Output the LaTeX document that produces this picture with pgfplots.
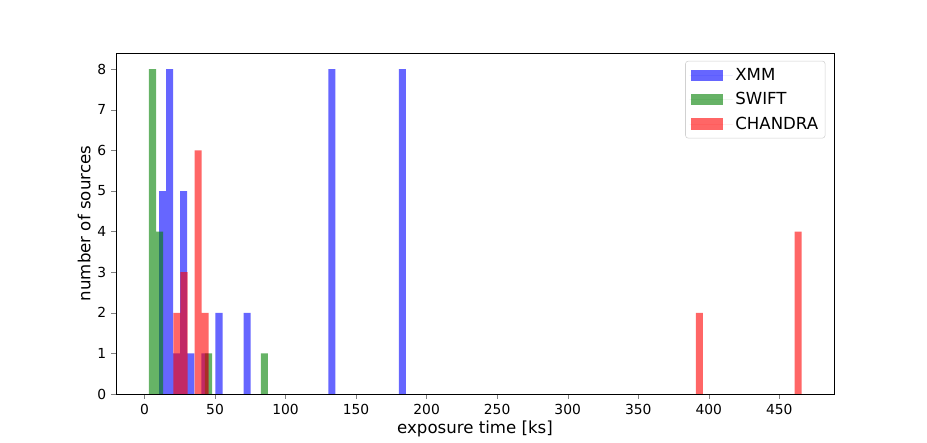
\documentclass[border=0pt]{standalone}
\usepackage{pgfplots}
\pgfplotsset{compat=1.18}
\usepackage{fontspec}
\setmainfont{DejaVu Sans}
\definecolor{mblue}{RGB}{0,0,255}
\definecolor{mgreen}{RGB}{0,128,0}
\definecolor{mred}{RGB}{255,0,0}
\begin{document}
\begin{tikzpicture}
\path[use as bounding box] (-83.52bp,-35.28bp) rectangle (583.92bp,283.68bp);
\begin{axis}[
  scale only axis,
  width=516.96bp, height=245.52bp,
  at={(0,0)}, anchor=south west,
  xmin=-20.2, xmax=488.8, ymin=0, ymax=8.4,
  xtick={0,50,...,450}, ytick={0,1,...,8},
  tick align=outside, tick pos=left,
  major tick length=3.5pt,
  tick label style={font=\fontsize{10}{12}\selectfont},
  /pgf/number format/assume math mode=true,
  xlabel={exposure time [ks]}, ylabel={number of sources},
  label style={font=\fontsize{12}{14}\selectfont},
  xlabel style={yshift=2pt},
  ylabel style={yshift=-2pt},
  ybar, bar shift=0pt, bar width=5,
  legend style={at={(0.988,0.977)}, anchor=north east, draw=black!18, rounded corners=2pt,
    font=\fontsize{12}{14}\selectfont, row sep=3.3pt, inner xsep=3pt, inner ysep=3pt},
  legend cell align=left,
  legend image code/.code={\path (-1pt,0pt) -- (30pt,0pt);
    \fill[#1, sharp corners] (0pt,-4pt) rectangle (23pt,4pt);},
]
\addplot[draw=none, fill=mblue, fill opacity=0.6] coordinates {
(12.8,5) (17.8,8) (22.8,1) (27.8,5) (32.8,1) (42.8,1) (52.8,2) (72.8,2) (132.8,8) (182.8,8)};
\addlegendentry{XMM}
\addplot[draw=none, fill=mgreen, fill opacity=0.6] coordinates {
(5.68,8) (10.64,4) (45.36,1) (85.04,1)};
\addlegendentry{SWIFT}
\addplot[draw=none, fill=mred, fill opacity=0.6] coordinates {
(23.0,2) (28.0,3) (38.0,6) (43.0,2) (393.4,2) (463.4,4)};
\addlegendentry{CHANDRA}
\end{axis}
\end{tikzpicture}
\end{document}
